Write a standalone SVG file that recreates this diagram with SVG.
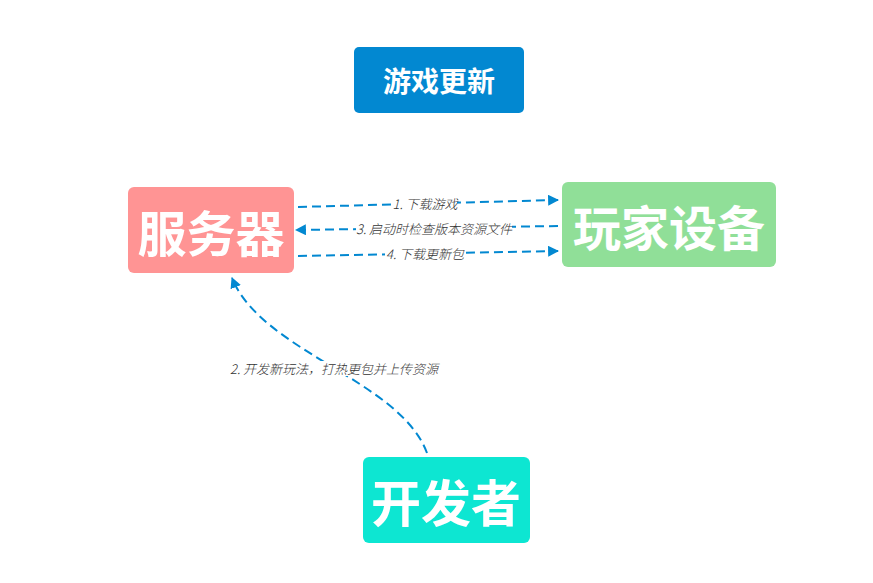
<svg xmlns="http://www.w3.org/2000/svg" width="873" height="583" viewBox="0 0 873 583">
<style>
.nt{font-family:"Noto Sans CJK SC","Noto Sans",sans-serif;font-weight:bold;fill:#fff;text-anchor:middle;dominant-baseline:central}
.ed{fill:none;stroke:#0288d1;stroke-width:2;stroke-dasharray:9,5;marker-end:url(#ah)}
.lb{font-family:"Noto Sans CJK SC","Noto Sans",sans-serif;font-style:italic;font-weight:300;font-size:13px;fill:#333;text-anchor:middle;dominant-baseline:central}
.bg{fill:#fff}
</style>
<defs>
<marker id="ah" viewBox="0 0 10 10" refX="9" refY="5" markerWidth="5.5" markerHeight="5.5" orient="auto" markerUnits="strokeWidth">
<path d="M0,0 L10,5 L0,10 z" fill="#0288d1"/>
</marker>
</defs>
<rect width="873" height="583" fill="#fff"/>
<g id="title">
<rect x="354" y="47" width="170" height="66" rx="5" fill="#0288d1"/>
<text class="nt" x="439" y="80" font-size="28">游戏更新</text>
</g>
<g id="server">
<rect x="128" y="187" width="166" height="86" rx="6" fill="#ff9494"/>
<text class="nt" x="211" y="230" font-size="49">服务器</text>
</g>
<g id="player">
<rect x="562" y="182" width="214" height="85" rx="6" fill="#90df98"/>
<text class="nt" x="669" y="225" font-size="48">玩家设备</text>
</g>
<g id="dev">
<rect x="363" y="457" width="167" height="86" rx="6" fill="#0de6d2"/>
<text class="nt" x="446" y="500" font-size="50">开发者</text>
</g>
<g id="connectors">
<path class="ed" d="M298,207 L558,200"/>
<path class="ed" d="M558,226 L296,230"/>
<path class="ed" d="M298,256 L558,251"/>
<path class="ed" d="M427,453 C400,380 262,352 232,278"/>
<rect class="bg" x="393" y="196" width="64" height="15"/>
<text class="lb" x="425" y="203">1. 下载游戏</text>
<rect class="bg" x="356" y="221" width="156" height="15"/>
<text class="lb" x="434" y="228">3. 启动时检查版本资源文件</text>
<rect class="bg" x="385" y="246" width="80" height="15"/>
<text class="lb" x="425" y="253">4. 下载更新包</text>
<rect class="bg" x="230" y="361" width="208" height="15"/>
<text class="lb" x="334" y="368">2. 开发新玩法，打热更包并上传资源</text>
</g>
</svg>
